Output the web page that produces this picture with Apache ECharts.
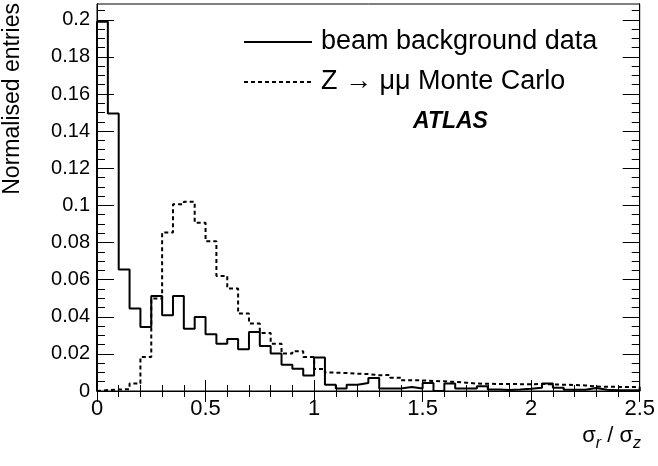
<!DOCTYPE html>
<html>
<head>
<meta charset="utf-8">
<script src="https://cdn.jsdelivr.net/npm/echarts@6/dist/echarts.min.js"></script>
<style>
html,body{margin:0;padding:0;background:#fff;}
#chart{width:658px;height:466px;}
</style>
</head>
<body>
<div id="chart"></div>
<script>
// ---- data ----
const binWidth = 0.05;
const xMin = 0, xMax = 2.5;
const xTickLabels = ['0', '0.5', '1', '1.5', '2', '2.5'];
const yTickLabels = ['0', '0.02', '0.04', '0.06', '0.08', '0.1', '0.12', '0.14', '0.16', '0.18', '0.2'];
const seriesNames = ['beam background data', 'Z \u2192 \u03bc\u03bc Monte Carlo'];
const beamBackground = [
  0.199, 0.1495, 0.0654, 0.0444, 0.0345, 0.0512, 0.0408, 0.0512, 0.0336, 0.0399,
  0.0306, 0.0255, 0.0280, 0.0225, 0.0318, 0.0243, 0.0202, 0.0142, 0.0120, 0.0084,
  0.0180, 0.0034, 0.0013, 0.0034, 0.0043, 0.0070, 0.0013, 0.0013, 0.0022, 0.0013,
  0.0043, 0.0000, 0.0040, 0.0013, 0.0013, 0.0025, 0.0008, 0.0005, 0.0008, 0.0012,
  0.0018, 0.0040, 0.0018, 0.0007, 0.0007, 0.0016, 0.0007, 0.0004, 0.0004, 0.0004
];
const zmumuMC = [
  0.0005, 0.0008, 0.0010, 0.0040, 0.0183, 0.0498, 0.0854, 0.1006, 0.1019, 0.0906,
  0.0807, 0.0620, 0.0552, 0.0417, 0.0363, 0.0313, 0.0255, 0.0202, 0.0214, 0.0183,
  0.0118, 0.0099, 0.0097, 0.0093, 0.0091, 0.0085, 0.0086, 0.0072, 0.0058, 0.0057,
  0.0054, 0.0052, 0.0049, 0.0045, 0.0040, 0.0039, 0.0038, 0.0038, 0.0037, 0.0036,
  0.0038, 0.0036, 0.0034, 0.0032, 0.0030, 0.0024, 0.0023, 0.0022, 0.0021, 0.0021
];

// histogram outline points (bin left edges, step at bin ends)
function histPoints(vals) {
  const pts = [[xMin, 0]];
  vals.forEach((v, i) => pts.push([xMin + i * binWidth, v]));
  pts.push([xMax, vals[vals.length - 1]]);
  pts.push([xMax, 0]);
  return pts;
}

const yMajor = yTickLabels.map(Number);
const yMinor = [];
for (let k = 1; k * 0.005 < 0.2085; k++) { if (k % 4 !== 0) yMinor.push(+(k * 0.005).toFixed(4)); }

const FONT = '"Liberation Sans", Arial, Helvetica, sans-serif';
const chart = echarts.init(document.getElementById('chart'), null, {renderer: 'canvas'});

const grid = {left: 97, right: 17, top: 4, bottom: 75, show: true, borderColor: '#000', borderWidth: 1, containLabel: false};

const xBase = {
  type: 'value', min: xMin, max: xMax, interval: 0.5,
  axisLine: {show: true, lineStyle: {color: '#000', width: 1}},
  splitLine: {show: false},
  minorTick: {show: true, splitNumber: 5, length: 6, lineStyle: {color: '#000', width: 1}},
  axisTick: {show: true, inside: true, length: 11, lineStyle: {color: '#000', width: 1}}
};
function yAxisDef(pos, vals, len, labels) {
  return {
    type: 'value', position: pos, min: 0, max: 0.2085,
    axisLine: {show: true, lineStyle: {color: '#000', width: 1}},
    splitLine: {show: false},
    axisTick: {show: true, inside: true, length: len, customValues: vals, lineStyle: {color: '#000', width: 1}},
    axisLabel: labels ? {show: true, customValues: yMajor, margin: 7, color: '#000', fontSize: 20, fontFamily: FONT,
      formatter: v => { const i = yMajor.findIndex(m => Math.abs(m - v) < 1e-9); return i >= 0 ? yTickLabels[i] : ''; }} : {show: false}
  };
}

const option = {
  backgroundColor: '#fff',
  animation: false,
  grid: grid,
  xAxis: [
    Object.assign({}, xBase, {position: 'bottom', axisLabel: {show: true, margin: 7, color: '#000', fontSize: 22, fontFamily: FONT,
      formatter: v => { const i = Math.round(v / 0.5); return xTickLabels[i] !== undefined ? xTickLabels[i] : ''; }}}),
    Object.assign({}, xBase, {position: 'top', axisLabel: {show: false}})
  ],
  yAxis: [
    yAxisDef('left', yMajor, 17, true),
    yAxisDef('left', yMinor, 8, false),
    yAxisDef('right', yMajor, 17, false),
    yAxisDef('right', yMinor, 8, false)
  ],
  legend: {
    orient: 'vertical', left: 238, top: 23, itemWidth: 68, itemHeight: 14, itemGap: 12,
    itemStyle: {opacity: 0},
    textStyle: {fontSize: 27, fontFamily: FONT, color: '#000', lineHeight: 28, padding: [0, 0, 0, 4]},
    data: seriesNames
  },
  series: [
    {
      name: seriesNames[0], type: 'line', step: 'end', data: histPoints(beamBackground),
      symbol: 'none', showSymbol: false, xAxisIndex: 0, yAxisIndex: 0,
      lineStyle: {color: '#000', width: 2, type: 'solid'}, itemStyle: {color: '#000'}
    },
    {
      name: seriesNames[1], type: 'line', step: 'end', data: histPoints(zmumuMC),
      symbol: 'none', showSymbol: false, xAxisIndex: 0, yAxisIndex: 0,
      lineStyle: {color: '#000', width: 2, type: [4, 3]}, itemStyle: {color: '#000'}
    }
  ],
  graphic: [
    {type: 'text', left: 413, top: 110, style: {text: 'ATLAS', font: 'italic bold 23px ' + FONT, fill: '#000'}},
    {type: 'text', x: 13, y: 3, rotation: Math.PI / 2,
      style: {text: 'Normalised entries', font: '23px ' + FONT, fill: '#000', align: 'right', verticalAlign: 'middle'}},
    {type: 'text', right: 17, top: 425,
      style: {text: '{s|\u03c3}{b|r}{s| / \u03c3}{b|z}', fill: '#000',
        rich: {s: {fontSize: 22, fontFamily: FONT, lineHeight: 27, verticalAlign: 'top'},
               b: {fontSize: 16, fontFamily: FONT, fontStyle: 'italic', lineHeight: 27, verticalAlign: 'bottom'}}}}
  ]
};
chart.setOption(option);
</script>
</body>
</html>
